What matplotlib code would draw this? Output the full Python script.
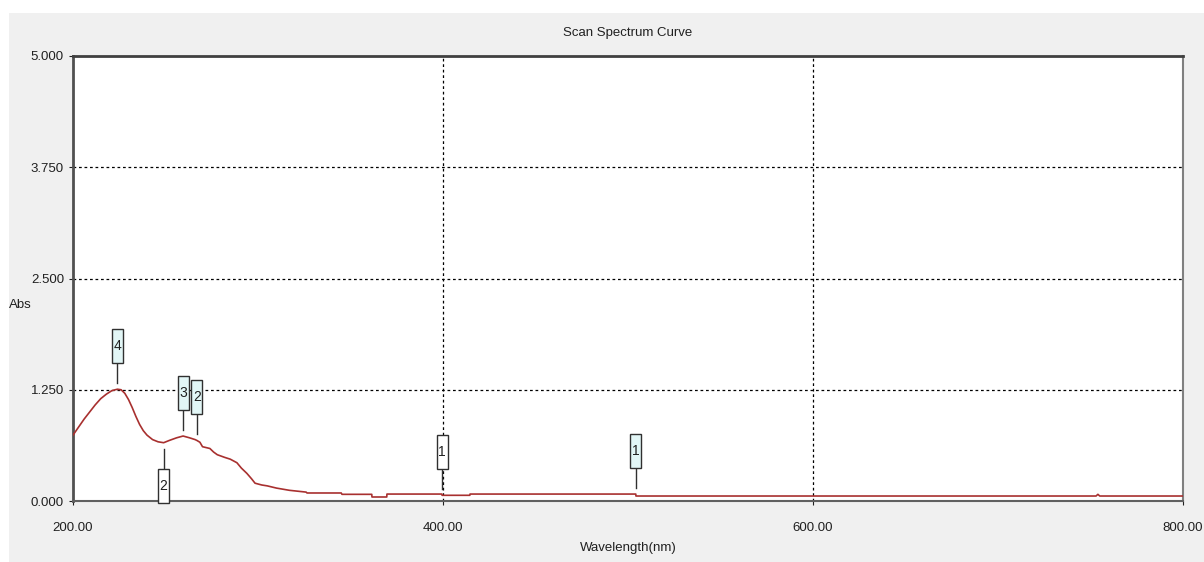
import numpy as np
import matplotlib
matplotlib.use("Agg")
import matplotlib.pyplot as plt
import matplotlib.transforms as mtransforms
from matplotlib.patches import Rectangle
from matplotlib.lines import Line2D
from matplotlib import font_manager

# Data (wavelength in nm, absorbance)
wavelength = [200, 203, 206, 209, 212, 215, 218, 221, 224, 226, 228, 230, 232, 234,
              236, 238, 240, 243, 246, 249, 252, 256, 259.5, 263, 266, 267, 268.6,
              270, 274, 276, 278, 282, 285, 288.6, 291, 294, 296.5, 298.4, 302, 305,
              310, 317, 326, 326.5, 345, 345.4, 361.5, 361.6, 369.6, 369.7,
              399.4, 399.5, 414.5, 414.6, 504.2, 504.3, 753, 754, 755, 800]
absorbance = [0.74, 0.83, 0.92, 1.00, 1.08, 1.15, 1.20, 1.24, 1.256, 1.25, 1.21, 1.14,
              1.05, 0.95, 0.86, 0.79, 0.74, 0.69, 0.665, 0.655, 0.68, 0.71, 0.73, 0.71,
              0.69, 0.68, 0.66, 0.61, 0.59, 0.55, 0.52, 0.49, 0.47, 0.43, 0.37, 0.31,
              0.25, 0.20, 0.18, 0.17, 0.145, 0.12, 0.10, 0.09, 0.09, 0.075, 0.075,
              0.045, 0.045, 0.078, 0.078, 0.064, 0.064, 0.078, 0.078, 0.056, 0.056,
              0.075, 0.056, 0.056]

# Peak / valley markers: wavelength, label, is_peak
mark_wl = [224, 259.5, 267, 249, 399.5, 504.2]
mark_label = ["4", "3", "2", "2", "1", "1"]
mark_peak = [True, True, True, False, False, True]
mark_below = [False, False, False, True, False, False]

x_ticks = [200, 400, 600, 800]
y_ticks = [0, 1.25, 2.5, 3.75, 5.0]


def pick_font():
    names = {f.name for f in font_manager.fontManager.ttflist}
    for name in ["Liberation Sans Narrow", "Arial Narrow", "Liberation Sans"]:
        if name in names:
            return name
    return "DejaVu Sans"


plt.rcParams["font.family"] = [pick_font(), "DejaVu Sans"]

fig = plt.figure(figsize=(12.04, 5.62), dpi=100, facecolor="white")
fig.patches.append(Rectangle((9 / 1204, 0), 1, 1 - 13 / 562, transform=fig.transFigure,
                             facecolor="#f0f0f0", edgecolor="none", zorder=-10))

ax = fig.add_axes([73 / 1204, 1 - 501 / 562, (1183 - 73) / 1204, (501 - 56) / 562])
ax.set_facecolor("white")
ax.plot(wavelength, absorbance, color="#a8302f", lw=1.2, zorder=3)

ax.set_xlim(200, 800)
ax.set_ylim(0, 5)
ax.set_xticks(x_ticks)
ax.set_xticklabels([f"{v:.2f}" for v in x_ticks])
ax.set_yticks(y_ticks)
ax.set_yticklabels([f"{v:.3f}" for v in y_ticks])
ax.tick_params(axis="both", labelsize=9.5, colors="#202020", length=3, width=0.8)
ax.tick_params(axis="x", pad=12)

# dotted grid, only inside
for v in x_ticks[1:-1]:
    ax.axvline(v, color="black", lw=0.9, ls=(0, (2.2, 2.2)), zorder=1)
for v in y_ticks[1:-1]:
    ax.axhline(v, color="black", lw=0.9, ls=(0, (2.2, 2.2)), zorder=1)

ax.spines["top"].set_color("#404040")
ax.spines["left"].set_color("#505050")
ax.spines["top"].set_linewidth(2)
ax.spines["left"].set_linewidth(2)
ax.spines["right"].set_color("#808080")
ax.spines["bottom"].set_color("#606060")
ax.spines["right"].set_linewidth(1.5)
ax.spines["bottom"].set_linewidth(1.5)

fig.text(628 / 1204, 1 - 33 / 562, "Scan Spectrum Curve", ha="center", va="center",
         fontsize=9.5, color="#202020")
fig.text(628 / 1204, 1 - 548 / 562, "Wavelength(nm)", ha="center", va="center",
         fontsize=9.5, color="#202020")
fig.text(20 / 1204, 1 - 305 / 562, "Abs", ha="center", va="center",
         fontsize=9.5, color="#202020")

# peak/valley tags: stem + tall box, sized in pixels
for wl, lab, peak, below in zip(mark_wl, mark_label, mark_peak, mark_below):
    yv = np.interp(wl, wavelength, absorbance)
    tr = mtransforms.Affine2D() + mtransforms.ScaledTranslation(wl, yv, ax.transData)
    sgn = -1 if below else 1
    ax.add_line(Line2D([0, 0], [6 * sgn, 26 * sgn], transform=tr, color="#303030",
                       lw=1, clip_on=False, zorder=4))
    y0 = 26 if not below else -60
    face = "#e2f6f6" if peak else "white"
    ax.add_patch(Rectangle((-5.5, y0), 11, 34, transform=tr, facecolor=face,
                           edgecolor="#303030", lw=1, clip_on=not below, zorder=5))
    ax.text(0, y0 + 17, lab, transform=tr, ha="center", va="center", fontsize=10,
            color="#202020", zorder=6, clip_on=False)

fig.savefig("out.png", dpi=100, facecolor=fig.get_facecolor())
